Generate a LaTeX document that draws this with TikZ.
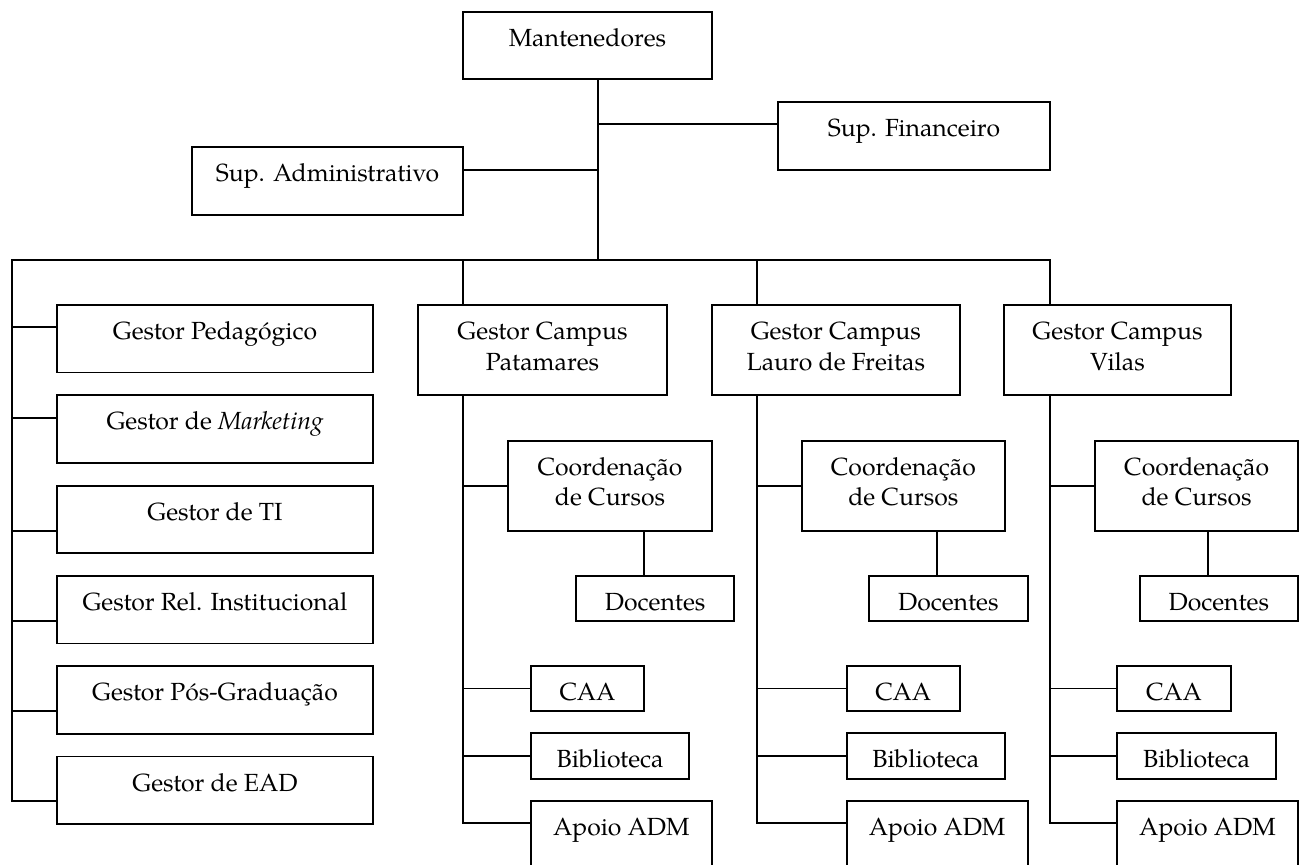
\documentclass[tikz,border=0pt]{standalone}
\usepackage{fontspec}
\setmainfont{texgyrepagella}[Extension=.otf,UprightFont=*-regular,ItalicFont=*-italic,BoldFont=*-bold]
\newcommand\bxt[3]{\parbox[t][#2pt][t]{#1pt}{\centering\rule{0pt}{34.5pt}#3}}
\tikzset{
  bx/.style={draw, line width=1.8pt, inner sep=0pt, outer sep=0pt, anchor=north west,
             font=\fontsize{24.8}{30.7}\selectfont},
  ln/.style={line width=1.8pt},
}
\begin{document}
\begin{tikzpicture}[x=1pt,y=-1pt]
\useasboundingbox (0,0) rectangle (1299,865);
\clip (0,0) rectangle (1299,865);
% top
\node[bx] (man) at (463,12)    {\bxt{249}{67}{Mantenedores}};
\node[bx] (fin) at (778,102)   {\bxt{272}{68}{Sup. Financeiro}};
\node[bx] (adm) at (192,147)   {\bxt{271}{68}{Sup. Administrativo}};
% left column
\node[bx] (ped) at (57,305)    {\bxt{316}{67.5}{Gestor Pedagógico}};
\node[bx] (mkt) at (57,395.3)  {\bxt{316}{67.5}{Gestor de \textit{Marketing}}};
\node[bx] (ti)  at (57,485.6)  {\bxt{316}{67.5}{Gestor de TI}};
\node[bx] (rel) at (57,575.9)  {\bxt{316}{67.5}{Gestor Rel. Institucional}};
\node[bx] (pos) at (57,666.2)  {\bxt{316}{67.5}{Gestor Pós-Graduação}};
\node[bx] (ead) at (57,756.5)  {\bxt{316}{67.5}{Gestor de EAD}};
% Patamares
\node[bx] (pat) at (418.3,305) {\bxt{248.4}{90.3}{Gestor Campus\\Patamares}};
\node[bx] (pc)  at (508.3,440.7) {\bxt{203.4}{90}{Coordenação\\de Cursos}};
\node[bx] (pd)  at (576,575.7) {\bxt{158.3}{45.3}{Docentes}};
\node[bx] (pca) at (531,666)   {\bxt{113}{45}{CAA}};
\node[bx] (pb)  at (531,733.3) {\bxt{158.3}{45.4}{Biblioteca}};
\node[bx] (pap) at (531,801)   {\bxt{180.7}{80}{Apoio ADM}};
% Lauro de Freitas
\node[bx] (lau) at (711.7,305) {\bxt{248.3}{90.3}{Gestor Campus\\Lauro de Freitas}};
\node[bx] (lc)  at (801.7,440.7) {\bxt{203.3}{90}{Coordenação\\de Cursos}};
\node[bx] (ld)  at (869,575.7) {\bxt{158.7}{45.3}{Docentes}};
\node[bx] (lca) at (846.7,666) {\bxt{113.3}{45}{CAA}};
\node[bx] (lb)  at (846.7,733.3) {\bxt{158.3}{45.4}{Biblioteca}};
\node[bx] (lap) at (846.7,801) {\bxt{181}{80}{Apoio ADM}};
% Vilas
\node[bx] (vil) at (1004.3,305) {\bxt{226.4}{90.3}{Gestor Campus\\Vilas}};
\node[bx] (vc)  at (1095,440.7) {\bxt{203.3}{90}{Coordenação\\de Cursos}};
\node[bx] (vd)  at (1140,575.7) {\bxt{157.7}{45.3}{Docentes}};
\node[bx] (vca) at (1117.3,666) {\bxt{113.4}{45}{CAA}};
\node[bx] (vb)  at (1117.3,733.3) {\bxt{158.7}{45.4}{Biblioteca}};
\node[bx] (vap) at (1117.3,801) {\bxt{180.4}{80}{Apoio ADM}};
% coordinates
\coordinate (bm) at (598,260);
\coordinate (bl) at (12,260);
\coordinate (jf) at (598,124.3);
\coordinate (ja) at (598,170);
\coordinate (pvx) at (463.3,0);
\coordinate (lvx) at (756.7,0);
\coordinate (vvx) at (1050,0);
\coordinate (pdx) at (643.7,0);
\coordinate (ldx) at (937.3,0);
\coordinate (vdx) at (1207.7,0);
\coordinate (pedj) at ([yshift=-22pt]ped.north west);
\coordinate (mktj) at ([yshift=-22.7pt]mkt.north west);
\coordinate (tij)  at ([yshift=-45.1pt]ti.north west);
\coordinate (relj) at ([yshift=-45.1pt]rel.north west);
\coordinate (posj) at ([yshift=-44.8pt]pos.north west);
\coordinate (eadj) at ([yshift=-44.3pt]ead.north west);
\coordinate (papj) at ([yshift=-22.3pt]pap.north west);
\coordinate (lapj) at ([yshift=-22.3pt]lap.north west);
\coordinate (vapj) at ([yshift=-22.3pt]vap.north west);
% top connectors
\draw[ln] (man.south -| bm) -- (bm);
\draw[ln] (jf) -- (jf -| fin.west);
\draw[ln] (ja) -- (ja -| adm.east);
% bus and left column
\draw[ln] (eadj) -| (bl) -| (vil.north -| vvx);
\draw[ln] (bl |- pedj) -- (pedj);
\draw[ln] (bl |- mktj) -- (mktj);
\draw[ln] (bl |- tij) -- (tij);
\draw[ln] (bl |- relj) -- (relj);
\draw[ln] (bl |- posj) -- (posj);
% campus drops
\draw[ln] (bl -| pvx) -- (pat.north -| pvx);
\draw[ln] (bl -| lvx) -- (lau.north -| lvx);
% Patamares
\draw[ln] (pat.south -| pvx) |- (papj);
\draw[ln] (pc.west -| pvx) -- (pc.west);
\draw[ln] (pca.west -| pvx) -- (pca.west);
\draw[ln] (pb.west -| pvx) -- (pb.west);
\draw[ln] (pc.south -| pdx) -- (pd.north -| pdx);
% Lauro
\draw[ln] (lau.south -| lvx) |- (lapj);
\draw[ln] (lc.west -| lvx) -- (lc.west);
\draw[ln] (lca.west -| lvx) -- (lca.west);
\draw[ln] (lb.west -| lvx) -- (lb.west);
\draw[ln] (lc.south -| ldx) -- (ld.north -| ldx);
% Vilas
\draw[ln] (vil.south -| vvx) |- (vapj);
\draw[ln] (vc.west -| vvx) -- (vc.west);
\draw[ln] (vca.west -| vvx) -- (vca.west);
\draw[ln] (vb.west -| vvx) -- (vb.west);
\draw[ln] (vc.south -| vdx) -- (vd.north -| vdx);
\end{tikzpicture}
\end{document}
